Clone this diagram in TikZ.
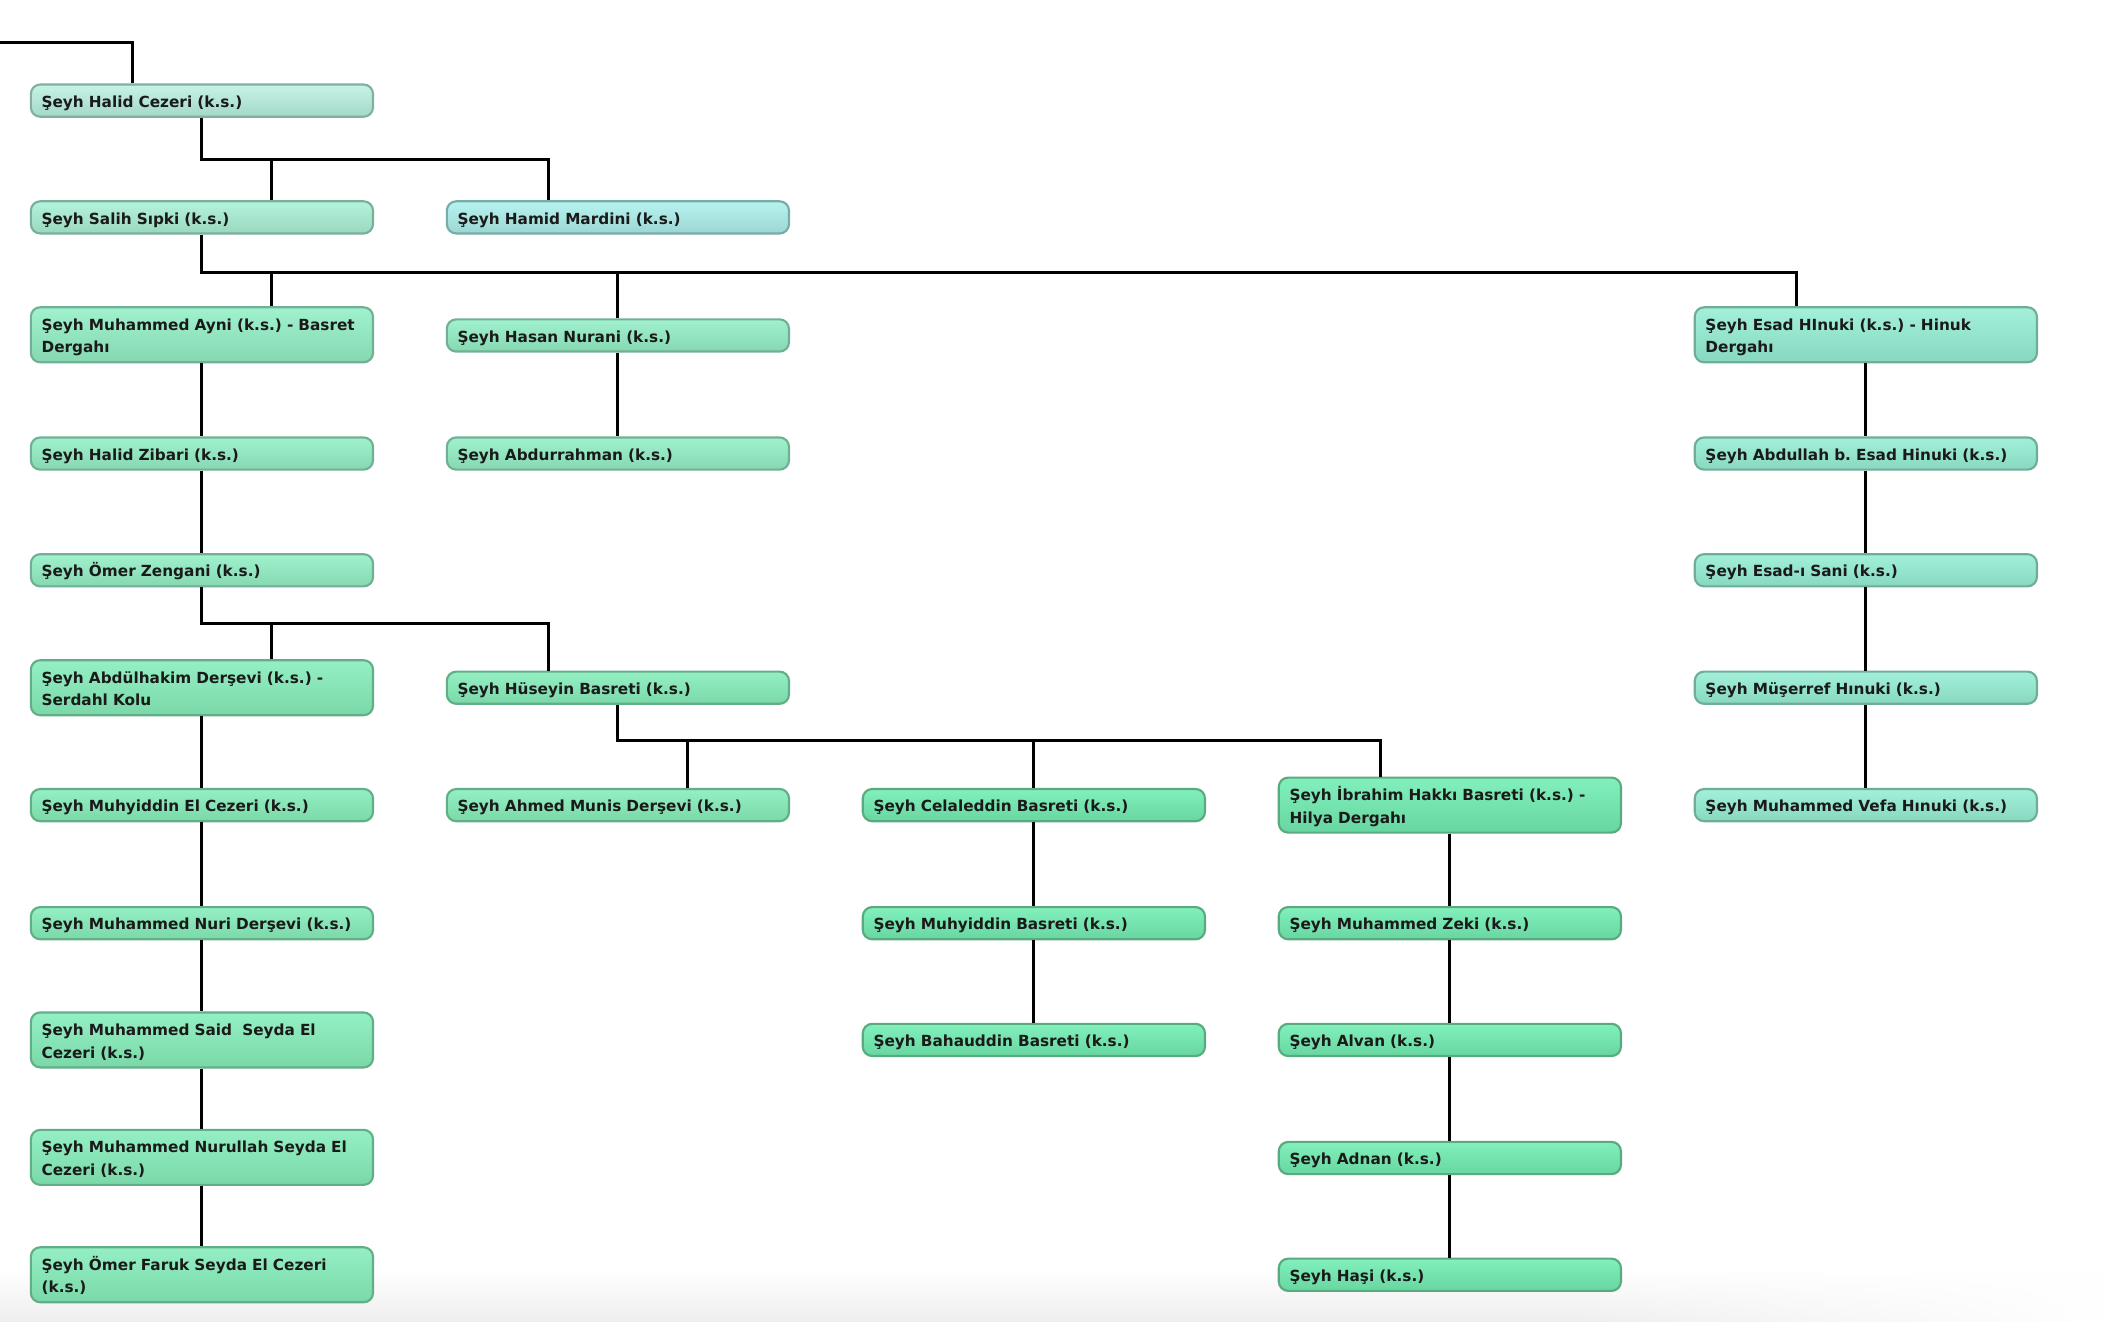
\documentclass[tikz,border=0pt]{standalone}
\usepackage{fontspec}
\setmainfont{DejaVu Sans}
\usetikzlibrary{fadings}
\tikzfading[name=fadeleft, left color=transparent!100, right color=transparent!0]
\definecolor{halT}{HTML}{C6F3E6}\definecolor{halB}{HTML}{A4D8C8}\definecolor{halD}{HTML}{80B0A0}
\definecolor{salT}{HTML}{B4F3DC}\definecolor{salB}{HTML}{9AD8BE}\definecolor{salD}{HTML}{78B09A}
\definecolor{hamT}{HTML}{B6F3F0}\definecolor{hamB}{HTML}{9CD6D2}\definecolor{hamD}{HTML}{78ACA8}
\definecolor{minT}{HTML}{A0F2CE}\definecolor{minB}{HTML}{86D8B2}\definecolor{minD}{HTML}{70B094}
\definecolor{teaT}{HTML}{A2F0DA}\definecolor{teaB}{HTML}{88D8C0}\definecolor{teaD}{HTML}{6EAE98}
\definecolor{greT}{HTML}{94F0C4}\definecolor{greB}{HTML}{7AD8A8}\definecolor{greD}{HTML}{62AE86}
\definecolor{deeT}{HTML}{82F0BC}\definecolor{deeB}{HTML}{68D6A0}\definecolor{deeD}{HTML}{5AAA80}
\definecolor{txt}{HTML}{1A1A1A}
\definecolor{bandgray}{HTML}{EEEEEE}
\tikzset{
  nb/.style={rectangle, rounded corners=7pt, minimum width=255pt, text width=239pt,
    inner xsep=8pt, inner ysep=3pt, minimum height=24pt, align=left,
    text height=10pt, text depth=0pt,
    font=\fontsize{11.4}{17}\selectfont\bfseries\frenchspacing, line width=1.6pt, text=txt},
  two/.style={minimum height=41pt, text depth=17pt},
  cHal/.style={draw=halD, top color=halT, bottom color=halB},
  cSal/.style={draw=salD, top color=salT, bottom color=salB},
  cHam/.style={draw=hamD, top color=hamT, bottom color=hamB},
  cMint/.style={draw=minD, top color=minT, bottom color=minB},
  cTeal/.style={draw=teaD, top color=teaT, bottom color=teaB},
  cGreen/.style={draw=greD, top color=greT, bottom color=greB},
  cDeep/.style={draw=deeD, top color=deeT, bottom color=deeB},
  conn/.style={draw=black, line width=2.2pt}
}
\begin{document}
\begin{tikzpicture}[x=1pt,y=-1pt]
\useasboundingbox (0,0) rectangle (1568,985);
\shade[top color=white, bottom color=bandgray] (0,945) rectangle (1568,985);
\fill[white, path fading=fadeleft] (1150,944) rectangle (1568,985);

\node[nb,cHal] (n1) at (150.5,75) {Şeyh Halid Cezeri (k.s.)};
\node[nb,cSal] (n2) at (150.5,162) {Şeyh Salih Sıpki (k.s.)};
\node[nb,cHam] (h) at (460.5,162) {Şeyh Hamid Mardini (k.s.)};
\node[nb,two,cMint] (n3) at (150.5,249.5) {Şeyh Muhammed Ayni (k.s.) - Basret\\Dergahı};
\node[nb,cMint] (hn) at (460.5,250) {Şeyh Hasan Nurani (k.s.)};
\node[nb,two,cTeal] (es) at (1390.5,249.5) {Şeyh Esad HInuki (k.s.) - Hinuk\\Dergahı};
\node[nb,cMint] (n4) at (150.5,338) {Şeyh Halid Zibari (k.s.)};
\node[nb,cMint] (ab) at (460.5,338) {Şeyh Abdurrahman (k.s.)};
\node[nb,cTeal] (ad) at (1390.5,338) {Şeyh Abdullah b. Esad Hinuki (k.s.)};
\node[nb,cMint] (n5) at (150.5,425) {Şeyh Ömer Zengani (k.s.)};
\node[nb,cTeal] (sa) at (1390.5,425) {Şeyh Esad-ı Sani (k.s.)};
\node[nb,two,cGreen] (n6) at (150.5,512.5) {Şeyh Abdülhakim Derşevi (k.s.) -\\Serdahl Kolu};
\node[nb,cGreen] (hb) at (460.5,512.5) {Şeyh Hüseyin Basreti (k.s.)};
\node[nb,cTeal] (mu) at (1390.5,512.5) {Şeyh Müşerref Hınuki (k.s.)};
\node[nb,cGreen] (n7) at (150.5,600) {Şeyh Muhyiddin El Cezeri (k.s.)};
\node[nb,cGreen] (am) at (460.5,600) {Şeyh Ahmed Munis Derşevi (k.s.)};
\node[nb,cDeep] (ce) at (770.5,600) {Şeyh Celaleddin Basreti (k.s.)};
\node[nb,two,cDeep] (ib) at (1080.5,600) {Şeyh İbrahim Hakkı Basreti (k.s.) -\\Hilya Dergahı};
\node[nb,cTeal] (mv) at (1390.5,600) {Şeyh Muhammed Vefa Hınuki (k.s.)};
\node[nb,cGreen] (n8) at (150.5,688) {Şeyh Muhammed Nuri Derşevi (k.s.)};
\node[nb,cDeep] (mb) at (770.5,688) {Şeyh Muhyiddin Basreti (k.s.)};
\node[nb,cDeep] (mz) at (1080.5,688) {Şeyh Muhammed Zeki (k.s.)};
\node[nb,two,cGreen] (n9) at (150.5,775) {Şeyh Muhammed Said\ \ Seyda El\\Cezeri (k.s.)};
\node[nb,cDeep] (bb) at (770.5,775) {Şeyh Bahauddin Basreti (k.s.)};
\node[nb,cDeep] (al) at (1080.5,775) {Şeyh Alvan (k.s.)};
\node[nb,two,cGreen] (n10) at (150.5,862.5) {Şeyh Muhammed Nurullah Seyda El\\Cezeri (k.s.)};
\node[nb,cDeep] (adn) at (1080.5,863) {Şeyh Adnan (k.s.)};
\node[nb,two,cGreen] (n11) at (150.5,950) {Şeyh Ömer Faruk Seyda El Cezeri\\(k.s.)};
\node[nb,cDeep] (ha) at (1080.5,950) {Şeyh Haşi (k.s.)};

\coordinate (start) at (0,32);
\coordinate (b1) at (0,119);
\coordinate (b2) at (0,203);
\coordinate (b3) at (0,465);
\coordinate (b4) at (0,552);
\coordinate (n1T) at ([xshift=-51.5pt]n1.north);
\coordinate (hT) at ([xshift=-51.5pt]h.north);
\coordinate (n2T) at ([xshift=51.5pt]n2.north);
\coordinate (esT) at ([xshift=-51.5pt]es.north);
\coordinate (n3T) at ([xshift=51.5pt]n3.north);
\coordinate (hbT) at ([xshift=-51.5pt]hb.north);
\coordinate (n6T) at ([xshift=51.5pt]n6.north);
\coordinate (ibT) at ([xshift=-51.5pt]ib.north);
\coordinate (amT) at ([xshift=51.5pt]am.north);

\draw[conn] (start) -| (n1T);
\draw[conn] (n1.south) |- (b1 -| hT) -- (hT);
\draw[conn] (n2T) -- (n2T |- b1);
\draw[conn] (n2.south) |- (b2 -| esT) -- (esT);
\draw[conn] (n3T) -- (n3T |- b2);
\draw[conn] (hn.north) -- (hn.north |- b2);
\draw[conn] (n5.south) |- (b3 -| hbT) -- (hbT);
\draw[conn] (n6T) -- (n6T |- b3);
\draw[conn] (hb.south) |- (b4 -| ibT) -- (ibT);
\draw[conn] (amT) -- (amT |- b4);
\draw[conn] (ce.north) -- (ce.north |- b4);
\foreach \a/\b in {n3/n4, n4/n5, n6/n7, n7/n8, n8/n9, n9/n10, n10/n11, hn/ab,
  es/ad, ad/sa, sa/mu, mu/mv, ce/mb, mb/bb, ib/mz, mz/al, al/adn, adn/ha}
  \draw[conn] (\a.south) -- (\b.north);
\end{tikzpicture}
\end{document}
